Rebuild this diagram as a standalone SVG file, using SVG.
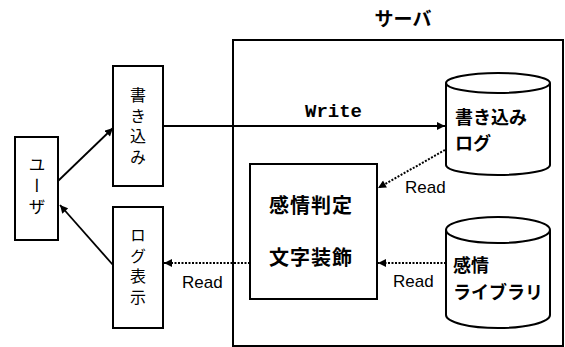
<svg xmlns="http://www.w3.org/2000/svg" width="565" height="347" viewBox="0 0 565 347">
<style>
.box{fill:#fff;stroke:#000;stroke-width:2}
.cyl{fill:#fff;stroke:#000;stroke-width:2}
.ln{fill:none;stroke:#000;stroke-width:1.8}
.dot{fill:none;stroke:#000;stroke-width:2;stroke-dasharray:2 1.5}
.jp{font-family:"Noto Sans CJK JP","Noto Sans",sans-serif;fill:#000}
.vt{writing-mode:vertical-rl;text-anchor:middle;font-size:16px;letter-spacing:4.5px}
.b{font-weight:bold}
.en{font-family:"Liberation Sans",Arial,sans-serif;font-size:17px;fill:#000}
.mono{font-family:"Liberation Mono","Courier New",monospace;font-size:19px;font-weight:bold;fill:#000}
</style>
<defs>
<marker id="ah" viewBox="0 0 10 10" refX="10" refY="5" markerWidth="9" markerHeight="8" markerUnits="userSpaceOnUse" orient="auto">
<path d="M0,0 L10,5 L0,10 z" fill="#000"/>
</marker>
</defs>
<g id="server">
<rect class="box" x="233" y="40" width="330" height="306" stroke-width="1.6"/>
<text class="jp b" x="403" y="26" font-size="19" text-anchor="middle">サーバ</text>
</g>
<g id="user">
<rect class="box" x="15" y="137" width="43" height="103"/>
<text class="jp vt" x="37" y="188" style="font-size:17px;letter-spacing:4px">ユーザ</text>
</g>
<g id="write">
<rect class="box" x="113" y="66" width="50" height="120"/>
<text class="jp vt" x="138" y="128">書き込み</text>
</g>
<g id="logview">
<rect class="box" x="113" y="207" width="50" height="121"/>
<text class="jp vt" x="138" y="268">ログ表示</text>
</g>
<g id="process">
<rect class="box" x="250" y="164" width="127" height="135"/>
<text class="jp b" x="311" y="213" font-size="20" text-anchor="middle" letter-spacing="1">感情判定</text>
<text class="jp b" x="311" y="265" font-size="20" text-anchor="middle" letter-spacing="1">文字装飾</text>
</g>
<g id="writelog">
<path class="cyl" d="M446,83 A52,10 0 0 1 550,83 L550,165 A52,10 0 0 1 446,165 Z"/>
<path class="cyl" fill="none" d="M446,83 A52,10 0 0 0 550,83"/>
<text class="jp b" x="455" y="124" font-size="18">書き込み</text>
<text class="jp b" x="455" y="150" font-size="18">ログ</text>
</g>
<g id="library">
<path class="cyl" d="M446,230 A52,13 0 0 1 550,230 L550,315 A52,13 0 0 1 446,315 Z"/>
<path class="cyl" fill="none" d="M446,230 A52,13 0 0 0 550,230"/>
<text class="jp b" x="453" y="272" font-size="18">感情</text>
<text class="jp b" x="453" y="299" font-size="18">ライブラリ</text>
</g>
<g id="connectors">
<line class="ln" x1="58" y1="181" x2="113" y2="128" marker-end="url(#ah)"/>
<line class="ln" x1="113" y1="265" x2="60" y2="205" marker-end="url(#ah)"/>
<line class="ln" x1="163" y1="126" x2="445" y2="126" marker-end="url(#ah)"/>
<text class="mono" x="305" y="117">Write</text>
<line class="dot" x1="445" y1="150" x2="378" y2="188" marker-end="url(#ah)"/>
<text class="en" x="405" y="193">Read</text>
<line class="dot" x1="446" y1="263" x2="378" y2="263" marker-end="url(#ah)"/>
<text class="en" x="393" y="287">Read</text>
<line class="dot" x1="250" y1="263" x2="164" y2="263" marker-end="url(#ah)"/>
<text class="en" x="182" y="288">Read</text>
</g>
</svg>
